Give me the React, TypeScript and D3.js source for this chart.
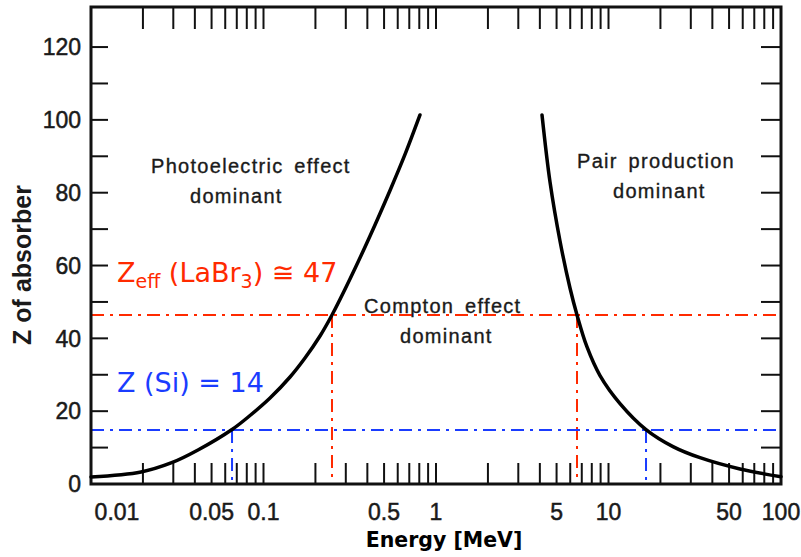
import React from "react";
import * as d3 from "d3";

// ---- data ----
// Photoelectric / Compton boundary (energy MeV, Z)
const leftEnergy = [0.01, 0.0195, 0.0291, 0.0417, 0.0657, 0.0835, 0.1091, 0.1425, 0.174, 0.2126, 0.2495, 0.3172, 0.4145, 0.5412, 0.6612, 0.8075];
const leftZ = [1.92, 3.3, 5.77, 9.34, 14.97, 18.81, 23.62, 29.39, 34.61, 40.65, 46.42, 56.3, 68.11, 80.61, 90.5, 101.35];
// Compton / pair production boundary
const rightEnergy = [4.117, 4.581, 5.234, 5.98, 6.568, 7.506, 8.928, 11.66, 16.5, 23.65, 33.92, 57.84, 100];
const rightZ = [101.35, 82.94, 66.74, 53.83, 46.42, 37.63, 29.77, 22.08, 14.94, 10.27, 7.22, 4.12, 1.98];

// guide lines: Z level and the two crossing energies
const laBr3Z = 46.4;
const laBr3Energies = [0.2495, 6.568];
const siZ = 14.8;
const siEnergies = [0.0657, 16.5];

const xTickLabels = [0.01, 0.05, 0.1, 0.5, 1, 5, 10, 50, 100];
const yTickLabels = [0, 20, 40, 60, 80, 100, 120];
const yMinorTicks = [10, 20, 30, 40, 50, 60, 70, 80, 90, 100, 110, 120];

const W = 801;
const H = 557;
const left = 91, right = 781, top = 7, bottom = 484;

const x = d3.scaleLog().domain([0.01, 100]).range([left, right]);
const y = d3.scaleLinear().domain([0, 131]).range([bottom, top]);

const xMinor: number[] = [];
for (let k = -2; k <= 1; k++) {
  for (let d = 1; d <= 9; d++) {
    const v = d * Math.pow(10, k);
    if (v > 0.01) xMinor.push(+v.toPrecision(3));
  }
}

const line = d3
  .line<[number, number]>()
  .x((d) => x(d[0]))
  .y((d) => y(d[1]))
  .curve(d3.curveCatmullRom.alpha(0.5));

const leftPts = leftEnergy.map((e, i) => [e, leftZ[i]] as [number, number]);
const rightPts = rightEnergy.map((e, i) => [e, rightZ[i]] as [number, number]);

const RED = "#ff2a00";
const BLUE = "#1a3cff";
const TEXT = "#1a1a1a";
const dash = "13,6,3,6";

const labelFont = "'Liberation Sans', Arial, sans-serif";
const annFont = "'DejaVu Sans', Verdana, sans-serif";

function fmt(v: number) {
  return String(v);
}

export default function App() {
  return (
    <svg
      width={W}
      height={H}
      viewBox={`0 0 ${W} ${H}`}
      style={{ position: "absolute", left: 0, top: 0, background: "#fff" }}
    >
      <rect x={0} y={0} width={W} height={H} fill="#fff" />

      {/* guide lines */}
      <g strokeWidth={2} fill="none" strokeDasharray={dash}>
        <line x1={left} x2={right} y1={y(laBr3Z)} y2={y(laBr3Z)} stroke={RED} />
        {laBr3Energies.map((e) => (
          <line key={"r" + e} x1={x(e)} x2={x(e)} y1={y(laBr3Z)} y2={bottom} stroke={RED} />
        ))}
        <line x1={left} x2={right} y1={y(siZ)} y2={y(siZ)} stroke={BLUE} />
        {siEnergies.map((e) => (
          <line key={"b" + e} x1={x(e)} x2={x(e)} y1={y(siZ)} y2={bottom} stroke={BLUE} />
        ))}
      </g>

      {/* ticks */}
      <g stroke="#111" strokeWidth={2}>
        {xMinor.map((v) => (
          <g key={"xt" + v}>
            <line x1={x(v)} x2={x(v)} y1={bottom} y2={bottom - 21} />
            <line x1={x(v)} x2={x(v)} y1={top} y2={top + 22} />
          </g>
        ))}
        {yMinorTicks.map((v) => (
          <g key={"yt" + v}>
            <line x1={left} x2={left + 17} y1={y(v)} y2={y(v)} />
            <line x1={right} x2={right - 20} y1={y(v)} y2={y(v)} />
          </g>
        ))}
      </g>

      {/* frame */}
      <rect
        x={left}
        y={top}
        width={right - left}
        height={bottom - top}
        fill="none"
        stroke="#111"
        strokeWidth={3}
      />

      {/* boundary curves */}
      <path d={line(leftPts) || ""} fill="none" stroke="#000" strokeWidth={3.5} strokeLinecap="round" />
      <path d={line(rightPts) || ""} fill="none" stroke="#000" strokeWidth={3.5} strokeLinecap="round" />

      {/* tick labels */}
      <g fontFamily={labelFont} fontSize={23} fill={TEXT} stroke={TEXT} strokeWidth={0.5}>
        {yTickLabels.map((v) => (
          <text key={"yl" + v} x={81} y={y(v)} dy="0.36em" textAnchor="end">
            {fmt(v)}
          </text>
        ))}
        {xTickLabels.map((v) => (
          <text
            key={"xl" + v}
            x={v === 0.01 ? x(v) + 26 : x(v)}
            y={520}
            textAnchor="middle"
          >
            {fmt(v)}
          </text>
        ))}
      </g>

      {/* region labels */}
      <g
        fontFamily={labelFont}
        fontSize={20}
        fill={TEXT}
        stroke={TEXT}
        strokeWidth={0.35}
        letterSpacing={1.3}
        wordSpacing={4}
      >
        <text x={151} y={173}>Photoelectric effect</text>
        <text x={190} y={203}>dominant</text>
        <text x={577} y={168}>Pair production</text>
        <text x={613} y={198}>dominant</text>
        <text x={364} y={313}>Compton effect</text>
        <text x={400} y={343}>dominant</text>
      </g>

      {/* annotations */}
      <text x={117} y={282} fontFamily={annFont} fontSize={27} fill={RED}>
        Z
        <tspan fontSize={19} dy={6}>eff</tspan>
        <tspan dy={-6}> (LaBr</tspan>
        <tspan fontSize={19} dy={6}>3</tspan>
        <tspan dy={-6}>) ≅ 47</tspan>
      </text>
      <text x={117} y={392} fontFamily={annFont} fontSize={27} fill={BLUE}>
        Z (Si) = 14
      </text>

      {/* axis titles */}
      <text
        x={444}
        y={547}
        textAnchor="middle"
        fontFamily={annFont}
        fontWeight="bold"
        fontSize={20.5}
        fill="#000"
      >
        Energy [MeV]
      </text>
      <text
        transform="translate(31,265) rotate(-90)"
        textAnchor="middle"
        fontFamily={labelFont}
        fontWeight="bold"
        fontSize={25}
        fill={TEXT}
      >
        Z of absorber
      </text>
    </svg>
  );
}
